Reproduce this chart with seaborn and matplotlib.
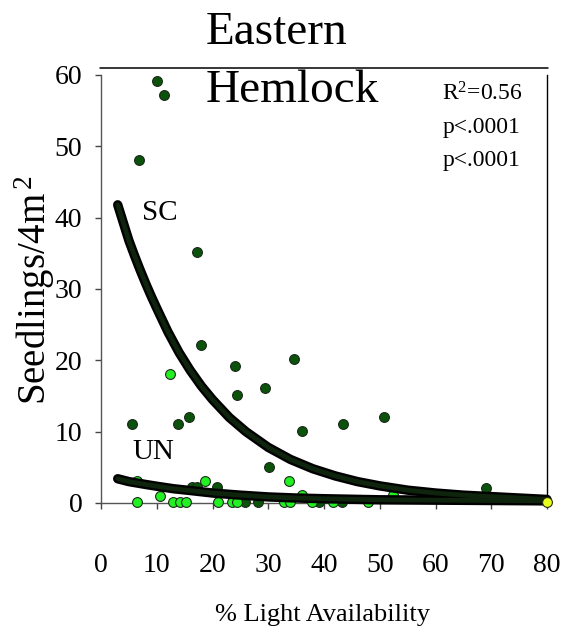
import matplotlib
matplotlib.use("Agg")
import matplotlib.pyplot as plt
from matplotlib.lines import Line2D
import seaborn as sns
import pandas as pd

# Closed-canopy (SC) seedling counts per plot
sc_light = [10.05, 11.3, 6.8, 17.2, 18.0, 24.1, 34.6, 24.4, 29.4, 15.8, 13.8, 5.6,
            36.1, 43.4, 50.8, 30.2, 69.1, 16.3, 17.2, 20.8, 25.9, 28.2, 39.1, 43.3]
sc_seedlings = [59.2, 57.2, 48.1, 35.2, 22.2, 19.2, 20.2, 15.1, 16.1, 12.1, 11.1, 11.1,
                10.1, 11.1, 12.1, 5.0, 2.1, 2.2, 2.2, 2.2, 0.15, 0.15, 0.15, 0.15]

# Understory (UN) seedling counts per plot
un_light = [12.4, 33.8, 18.7, 6.5, 10.6, 36.1, 52.4, 6.5, 12.9, 14.2, 15.3, 21.0,
            23.5, 24.4, 32.9, 33.9, 37.9, 41.7, 47.9]
un_seedlings = [18.1, 3.1, 3.1, 3.1, 1.0, 1.1, 1.1, 0.15, 0.15, 0.15, 0.15, 0.15,
                0.15, 0.15, 0.15, 0.15, 0.15, 0.15, 0.15]

# Plot at the upper end of the light gradient
end_light = [80.0]
end_seedlings = [0.15]

# Fitted response curves
sc_fit_light = [3, 4, 5, 6, 7, 8, 9, 10, 12, 14, 16, 18, 20, 23, 26, 30, 34, 38,
                42, 46, 50, 55, 60, 65, 70, 75, 80]
sc_fit_seedlings = [41.8, 39.3, 36.8, 34.7, 32.7, 30.8, 29.0, 27.3, 24.0, 21.1, 18.6,
                    16.4, 14.5, 12.0, 10.0, 7.8, 6.1, 4.8, 3.8, 3.0, 2.4, 1.8, 1.4,
                    1.1, 0.9, 0.7, 0.5]
un_fit_light = [3, 5, 8, 10, 13, 16, 20, 25, 30, 35, 40, 50, 60, 70, 80]
un_fit_seedlings = [3.4, 3.0, 2.6, 2.35, 2.0, 1.75, 1.4, 1.1, 0.85, 0.7, 0.6, 0.45,
                    0.4, 0.35, 0.3]

x_ticks = [0, 10, 20, 30, 40, 50, 60, 70, 80]
y_ticks = [0, 10, 20, 30, 40, 50, 60]

sns.set_theme(style="white")
plt.rcParams["font.family"] = ["Liberation Serif", "DejaVu Serif"]
plt.rcParams["mathtext.fontset"] = "custom"
plt.rcParams["mathtext.rm"] = "Liberation Serif"
plt.rcParams["mathtext.it"] = "Liberation Serif"
plt.rcParams["mathtext.default"] = "rm"
plt.rcParams["text.color"] = "black"

W, H = 566, 634
fig = plt.figure(figsize=(W / 100, H / 100), dpi=100)
ax = fig.add_axes([101 / W, 1 - 503 / H, 446 / W, 428 / H])

sc_df = pd.DataFrame({"light": sc_light, "seedlings": sc_seedlings})
un_df = pd.DataFrame({"light": un_light, "seedlings": un_seedlings})
end_df = pd.DataFrame({"light": end_light, "seedlings": end_seedlings})
sc_fit = pd.DataFrame({"light": sc_fit_light, "seedlings": sc_fit_seedlings})
un_fit = pd.DataFrame({"light": un_fit_light, "seedlings": un_fit_seedlings})

pt_kw = dict(s=50, linewidth=0.8, edgecolor="#1b2b1b", clip_on=False, zorder=3, legend=False)
sns.scatterplot(data=sc_df, x="light", y="seedlings", color="#0b520b", ax=ax, **pt_kw)
sns.scatterplot(data=un_df, x="light", y="seedlings", color="#22f022", ax=ax, **pt_kw)

# Thick fitted curves: black outline with a very dark green core
for fit in (sc_fit, un_fit):
    sns.lineplot(data=fit, x="light", y="seedlings", sort=False, estimator=None,
                 color="black", linewidth=6.8, solid_capstyle="round", ax=ax,
                 zorder=4, clip_on=False)
    sns.lineplot(data=fit, x="light", y="seedlings", sort=False, estimator=None,
                 color="#0e240c", linewidth=3.4, solid_capstyle="round", ax=ax,
                 zorder=5, clip_on=False)

sns.scatterplot(data=end_df, x="light", y="seedlings", color="#e6ff1e", ax=ax,
                s=50, linewidth=0.8, edgecolor="#2b2b10", clip_on=False, zorder=6,
                legend=False)

ax.set_xlim(0, 80)
ax.set_ylim(0, 60)
ax.set_xticks(x_ticks)
ax.set_yticks(y_ticks)
ax.set_xticklabels([str(v) for v in x_ticks], fontsize=20)
ax.set_yticklabels([str(v) for v in y_ticks], fontsize=20)
ax.tick_params(axis="x", direction="out", length=4, width=1, color="#444444",
               labelcolor="black", pad=32, bottom=True)
ax.tick_params(axis="y", direction="out", length=4.5, width=1, color="#444444",
               labelcolor="black", pad=9, left=True)
ax.set_xlabel("")
ax.set_ylabel("")

for side in ("left", "bottom", "right"):
    ax.spines[side].set_visible(True)
    ax.spines[side].set_linewidth(1.0)
ax.spines["left"].set_color("#555555")
ax.spines["bottom"].set_color("#555555")
ax.spines["right"].set_color("black")
ax.spines["top"].set_visible(False)

# Curve labels and fit statistics
ax.text(7.4, 40.6, "SC", fontsize=21, va="center", ha="left")
ax.text(5.6, 7.2, "UN", fontsize=21, va="center", ha="left")
ax.text(61.2, 56.4, r"R$^{2}$=0.56", fontsize=17, va="baseline", ha="left")
ax.text(61.2, 51.8, "p<.0001", fontsize=17, va="baseline", ha="left")
ax.text(61.2, 47.2, "p<.0001", fontsize=17, va="baseline", ha="left")

# Title and rule beneath the first title line
fig.text(206 / W, 1 - 44 / H, "Eastern", fontsize=34, ha="left", va="baseline")
fig.text(206 / W, 1 - 102 / H, "Hemlock", fontsize=34, ha="left", va="baseline")
fig.add_artist(Line2D([100 / W, 548 / W], [1 - 67.5 / H, 1 - 67.5 / H],
                      color="black", linewidth=1.1))

fig.text(323 / W, 1 - 621 / H, "% Light Availability", fontsize=19,
         ha="center", va="baseline")
fig.text(35 / W, 1 - 290 / H, r"Seedlings/4m$^{\,2}$", fontsize=28, rotation=90,
         ha="center", va="center")

fig.savefig("out.png", dpi=100, facecolor="white")
